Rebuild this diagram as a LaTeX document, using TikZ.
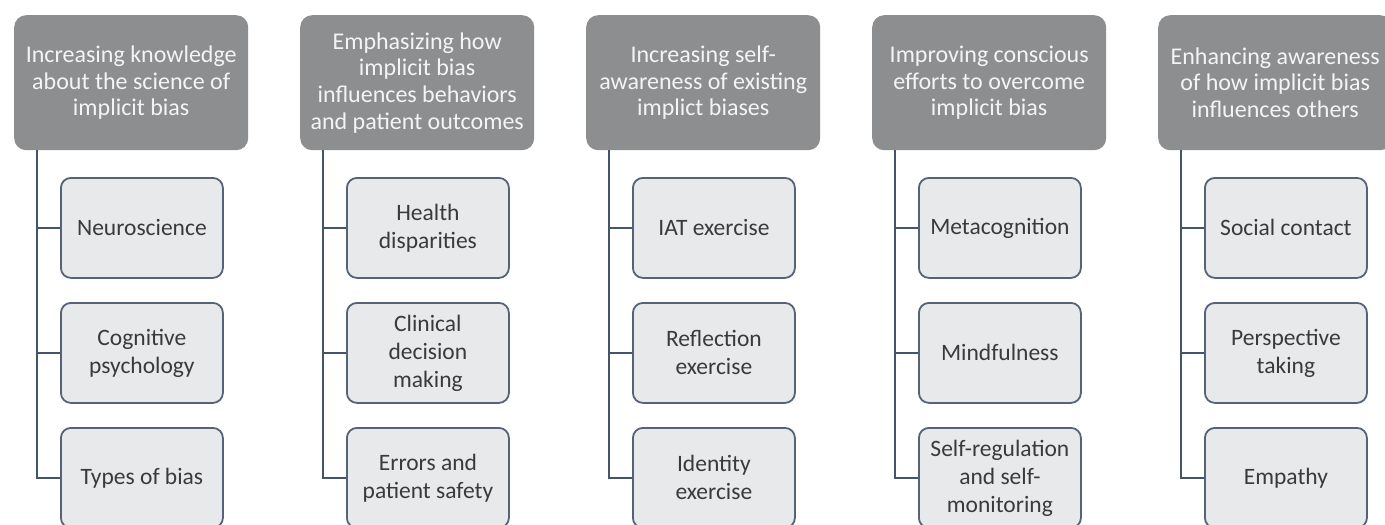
\documentclass[tikz,border=0pt]{standalone}
\usepackage{fontspec}
\setmainfont{Carlito}
\definecolor{hdrfill}{HTML}{8D8E90}
\definecolor{hdrtext}{HTML}{F4F4F4}
\definecolor{kidfill}{HTML}{E8E9EB}
\definecolor{kidline}{HTML}{56627A}
\definecolor{conn}{HTML}{44546A}
\definecolor{kidtext}{HTML}{3A3A3A}
\tikzset{
  hdr/.style={anchor=north west, rectangle, rounded corners=12pt, fill=hdrfill,
    minimum width=234pt, minimum height=135pt, inner sep=0pt, align=center,
    text=hdrtext, font=\fontsize{24}{26.7}\selectfont},
  kid/.style={anchor=north west, rectangle, rounded corners=10pt, fill=kidfill,
    draw=kidline, line width=1.8pt, minimum width=162pt, minimum height=100pt,
    inner sep=0pt, align=center, text=kidtext, font=\fontsize{23.5}{28}\selectfont},
  link/.style={draw=conn, line width=2.4pt}
}
\begin{document}
\begin{tikzpicture}[x=1pt,y=-1pt]
\useasboundingbox (0,0) rectangle (1385,525);
% column 1
\node[hdr] (h1) at (14,15) {Increasing knowledge\\about the science of\\implicit bias};
\node[kid] (k11) at (60,177) {Neuroscience};
\node[kid] (k12) at (60,302) {Cognitive\\psychology};
\node[kid] (k13) at (60,427) {Types of bias};
% column 2
\node[hdr] (h2) at (300,15) {Emphasizing how\\implicit bias\\influences behaviors\\and patient outcomes};
\node[kid] (k21) at (346,177) {Health\\disparities};
\node[kid] (k22) at (346,302) {Clinical\\decision\\making};
\node[kid] (k23) at (346,427) {Errors and\\patient safety};
% column 3
\node[hdr] (h3) at (586,15) {Increasing self-\\awareness of existing\\implict biases};
\node[kid] (k31) at (632,177) {IAT exercise};
\node[kid] (k32) at (632,302) {Reflection\\exercise};
\node[kid] (k33) at (632,427) {Identity\\exercise};
% column 4
\node[hdr] (h4) at (872,15) {Improving conscious\\efforts to overcome\\implicit bias};
\node[kid] (k41) at (918,177) {Metacognition};
\node[kid] (k42) at (918,302) {Mindfulness};
\node[kid] (k43) at (918,427) {Self-regulation\\and self-\\monitoring};
% column 5
\node[hdr] (h5) at (1158,15) {Enhancing awareness\\of how implicit bias\\influences others};
\node[kid] (k51) at (1204,177) {Social contact};
\node[kid] (k52) at (1204,302) {Perspective\\taking};
\node[kid] (k53) at (1204,427) {Empathy};
% connectors
\foreach \i in {1,...,5}{
  \coordinate (t\i) at ([xshift=23pt]h\i.south west);
  \draw[link] (t\i) |- (k\i1.west);
  \draw[link] (t\i) |- (k\i2.west);
  \draw[link] (t\i) |- (k\i3.west);
}
\end{tikzpicture}
\end{document}
